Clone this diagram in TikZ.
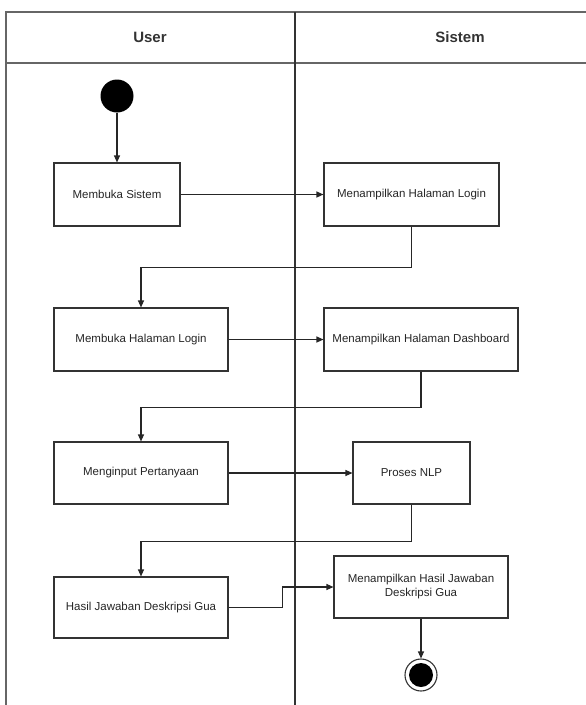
\documentclass[tikz,border=0pt]{standalone}
\usepackage{fontspec}
\setmainfont{Liberation Sans}
\usetikzlibrary{arrows.meta}
\tikzset{
  act/.style={draw=black!80, line width=1.1pt, fill=white, inner sep=2pt, align=center,
    font=\fontsize{11.5}{14}\selectfont, text=black!85},
  arr/.style={draw=black!85, line width=1.1pt, -{Triangle[length=7pt,width=6pt]}},
  lane/.style={draw=black!60, line width=1.3pt},
  hdr/.style={font=\bfseries\fontsize{15}{17}\selectfont, text=black!80}
}
\begin{document}
\begin{tikzpicture}[x=1pt,y=-1pt]
\useasboundingbox (0,0) rectangle (586,705);
\clip (0,0) rectangle (586,705);
% swimlane frame
\draw[lane] (6,710) -- (6,12) -- (640,12);
\draw[lane] (6,63) -- (640,63);
\draw[lane, draw=black!80] (295,12) -- (295,710);
\node[hdr] (huser) at (150,37) {User};
\node[hdr] (hsis) at (460,37) {Sistem};
% start
\node[circle, fill=black, minimum size=33pt, inner sep=0pt] (start) at (117,96) {};
% activities
\node[act, minimum width=126pt, minimum height=63pt] (b1) at (117,194.5) {Membuka Sistem};
\node[act, minimum width=175pt, minimum height=63pt] (l1) at (411.5,194.5) {Menampilkan Halaman Login};
\node[act, minimum width=174pt, minimum height=63pt] (b2) at (141,339.5) {Membuka Halaman Login};
\node[act, minimum width=194pt, minimum height=63pt] (d2) at (421,339.5) {Menampilkan Halaman Dashboard};
\node[act, minimum width=174pt, minimum height=62pt] (b3) at (141,473) {Menginput Pertanyaan};
\node[act, minimum width=117pt, minimum height=62pt] (n3) at (411.5,473) {Proses NLP};
\node[act, minimum width=174pt, minimum height=61pt] (b4) at (141,607.5) {Hasil Jawaban Deskripsi Gua};
\node[act, minimum width=174pt, minimum height=62pt] (m4) at (421,587) {Menampilkan Hasil Jawaban\\Deskripsi Gua};
% end
\node[circle, draw=black!80, line width=1.1pt, minimum size=32pt, inner sep=0pt] (end) at (421,675) {};
\fill[black] (end.center) circle (12pt);
% connectors
\draw[arr] (start) -- (start |- b1.north);
\draw[arr] (b1.east) -- (b1.east -| l1.west);
\draw[arr] (l1.south) -- ++(0,41) -| (b2.north);
\draw[arr] (b2.east) -- (b2.east -| d2.west);
\draw[arr] (d2.south) -- ++(0,36) -| (b3.north);
\draw[arr] (b3.east) -- (b3.east -| n3.west);
\draw[arr] (n3.south) -- ++(0,37) -| (b4.north);
\draw[arr] (b4.east) -- ++(54,0) |- (m4.west);
\draw[arr] (m4.south) -- (end.north);
\end{tikzpicture}
\end{document}
